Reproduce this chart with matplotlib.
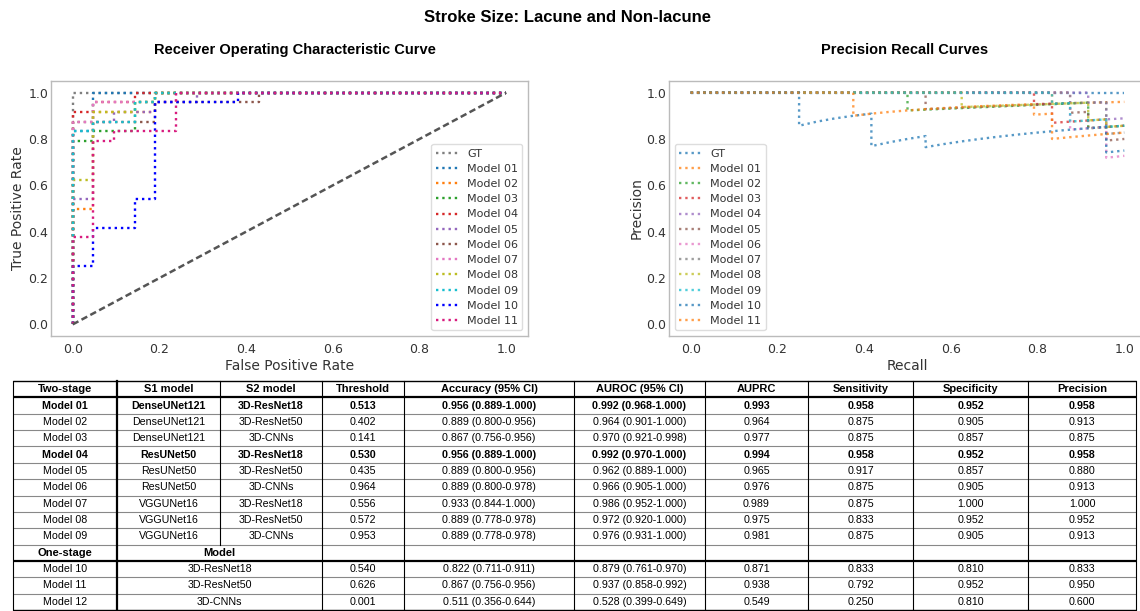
import matplotlib
matplotlib.use('Agg')
import matplotlib.pyplot as plt

W, H = 1140, 611

# ---------------- data ----------------
curve_labels = ['GT'] + ['Model %02d' % i for i in range(1, 12)]

roc_colors = ['tab:gray', 'tab:blue', 'tab:orange', 'tab:green', 'tab:red', 'tab:purple',
              'tab:brown', 'tab:pink', 'tab:olive', 'tab:cyan', 'blue', '#d81b7e']

roc_fpr = [
    [0, 0, 1],
    [0, 0, 0.0476, 0.0476, 1],
    [0, 0, 0.0476, 0.0476, 0.1905, 0.1905, 1],
    [0, 0, 0.0476, 0.0476, 0.1429, 0.1429, 0.1905, 0.1905, 1],
    [0, 0, 0.0476, 0.0476, 0.1429, 0.1429, 1],
    [0, 0, 0.0476, 0.0476, 0.0952, 0.0952, 0.1905, 0.1905, 0.2857, 0.2857, 1],
    [0, 0, 0.1905, 0.1905, 0.4286, 0.4286, 1],
    [0, 0, 0.0476, 0.0476, 0.2381, 0.2381, 1],
    [0, 0, 0.0476, 0.0476, 0.1429, 0.1429, 0.1905, 0.1905, 1],
    [0, 0, 0.0476, 0.0476, 0.1429, 0.1429, 0.1905, 0.1905, 1],
    [0, 0, 0.0476, 0.0476, 0.1429, 0.1429, 0.1905, 0.1905, 0.381, 0.381, 1],
    [0, 0, 0.0476, 0.0476, 0.0952, 0.0952, 0.2381, 0.2381, 1],
]
roc_tpr = [
    [0, 1, 1],
    [0, 0.8333, 0.8333, 1, 1],
    [0, 0.5, 0.5, 0.9167, 0.9167, 1, 1],
    [0, 0.7917, 0.7917, 0.8333, 0.8333, 0.9583, 0.9583, 1, 1],
    [0, 0.9167, 0.9167, 0.9583, 0.9583, 1, 1],
    [0, 0.5417, 0.5417, 0.875, 0.875, 0.9167, 0.9167, 0.9583, 0.9583, 1, 1],
    [0, 0.875, 0.875, 0.9583, 0.9583, 1, 1],
    [0, 0.875, 0.875, 0.9583, 0.9583, 1, 1],
    [0, 0.625, 0.625, 0.9167, 0.9167, 0.9583, 0.9583, 1, 1],
    [0, 0.8333, 0.8333, 0.875, 0.875, 0.9583, 0.9583, 1, 1],
    [0, 0.25, 0.25, 0.4167, 0.4167, 0.5417, 0.5417, 0.9583, 0.9583, 1, 1],
    [0, 0.375, 0.375, 0.7917, 0.7917, 0.8333, 0.8333, 1, 1],
]

pr_colors = ['tab:blue', 'tab:orange', 'tab:green', 'tab:red', 'tab:purple', 'tab:brown',
             'tab:pink', 'tab:gray', 'tab:olive', 'tab:cyan', 'tab:blue', 'tab:orange']

pr_recall = [
    [0, 1.0],
    [0, 0.8333, 0.8333, 1.0],
    [0, 0.5, 0.5, 0.9167, 0.9167, 1.0],
    [0, 0.7917, 0.7917, 0.8333, 0.8333, 0.9583, 0.9583, 1.0],
    [0, 0.9167, 0.9167, 0.9583, 0.9583, 1.0],
    [0, 0.5417, 0.5417, 0.875, 0.875, 0.9167, 0.9167, 0.9583, 0.9583, 1.0],
    [0, 0.875, 0.875, 0.9583, 0.9583, 1.0],
    [0, 0.875, 0.875, 0.9583, 0.9583, 1.0],
    [0, 0.625, 0.625, 0.9167, 0.9167, 0.9583, 0.9583, 1.0],
    [0, 0.8333, 0.8333, 0.875, 0.875, 0.9583, 0.9583, 1.0],
    [0, 0.25, 0.25, 0.2917, 0.3333, 0.375, 0.4167, 0.4167, 0.4583, 0.5, 0.5417, 0.5417,
     0.5833, 0.625, 0.6667, 0.7083, 0.75, 0.7917, 0.8333, 0.875, 0.9167, 0.9583, 0.9583, 1.0],
    [0, 0.375, 0.375, 0.4167, 0.4583, 0.5, 0.5417, 0.5833, 0.625, 0.6667, 0.7083, 0.75,
     0.7917, 0.7917, 0.8333, 0.8333, 0.875, 0.9167, 0.9583, 1.0],
]
pr_precision = [
    [1, 1],
    [1, 1, 0.9524, 0.96],
    [1, 1, 0.9231, 0.9565, 0.8462, 0.8571],
    [1, 1, 0.95, 0.9524, 0.8696, 0.8846, 0.8519, 0.8571],
    [1, 1, 0.9565, 0.9583, 0.8846, 0.8889],
    [1, 1, 0.9286, 0.9545, 0.913, 0.9167, 0.8462, 0.8519, 0.7931, 0.8],
    [1, 1, 0.84, 0.8519, 0.7188, 0.7273],
    [1, 1, 0.9545, 0.9583, 0.8214, 0.8276],
    [1, 1, 0.9375, 0.9565, 0.88, 0.8846, 0.8519, 0.8571],
    [1, 1, 0.9524, 0.9545, 0.875, 0.8846, 0.8519, 0.8571],
    [1, 1, 0.8571, 0.875, 0.8889, 0.9, 0.9091, 0.7692, 0.7857, 0.8, 0.8125, 0.7647,
     0.7778, 0.7895, 0.8, 0.8095, 0.8182, 0.8261, 0.8333, 0.84, 0.8462, 0.8519, 0.7419, 0.75],
    [1, 1, 0.9, 0.9091, 0.9167, 0.9231, 0.9286, 0.9333, 0.9375, 0.9412, 0.9444, 0.9474,
     0.95, 0.9048, 0.9091, 0.8, 0.8077, 0.8148, 0.8214, 0.8276],
]

table_header = ['Two-stage', 'S1 model', 'S2 model', 'Threshold', 'Accuracy (95% CI)',
                'AUROC (95% CI)', 'AUPRC', 'Sensitivity', 'Specificity', 'Precision']
two_stage_rows = [
    ['Model 01', 'DenseUNet121', '3D-ResNet18', '0.513', '0.956 (0.889-1.000)', '0.992 (0.968-1.000)', '0.993', '0.958', '0.952', '0.958'],
    ['Model 02', 'DenseUNet121', '3D-ResNet50', '0.402', '0.889 (0.800-0.956)', '0.964 (0.901-1.000)', '0.964', '0.875', '0.905', '0.913'],
    ['Model 03', 'DenseUNet121', '3D-CNNs', '0.141', '0.867 (0.756-0.956)', '0.970 (0.921-0.998)', '0.977', '0.875', '0.857', '0.875'],
    ['Model 04', 'ResUNet50', '3D-ResNet18', '0.530', '0.956 (0.889-1.000)', '0.992 (0.970-1.000)', '0.994', '0.958', '0.952', '0.958'],
    ['Model 05', 'ResUNet50', '3D-ResNet50', '0.435', '0.889 (0.800-0.956)', '0.962 (0.889-1.000)', '0.965', '0.917', '0.857', '0.880'],
    ['Model 06', 'ResUNet50', '3D-CNNs', '0.964', '0.889 (0.800-0.978)', '0.966 (0.905-1.000)', '0.976', '0.875', '0.905', '0.913'],
    ['Model 07', 'VGGUNet16', '3D-ResNet18', '0.556', '0.933 (0.844-1.000)', '0.986 (0.952-1.000)', '0.989', '0.875', '1.000', '1.000'],
    ['Model 08', 'VGGUNet16', '3D-ResNet50', '0.572', '0.889 (0.778-0.978)', '0.972 (0.920-1.000)', '0.975', '0.833', '0.952', '0.952'],
    ['Model 09', 'VGGUNet16', '3D-CNNs', '0.953', '0.889 (0.778-0.978)', '0.976 (0.931-1.000)', '0.981', '0.875', '0.905', '0.913'],
]
bold_rows = ['Model 01', 'Model 04']
one_stage_header = ['One-stage', 'Model']
one_stage_rows = [
    ['Model 10', '3D-ResNet18', '0.540', '0.822 (0.711-0.911)', '0.879 (0.761-0.970)', '0.871', '0.833', '0.810', '0.833'],
    ['Model 11', '3D-ResNet50', '0.626', '0.867 (0.756-0.956)', '0.937 (0.858-0.992)', '0.938', '0.792', '0.952', '0.950'],
    ['Model 12', '3D-CNNs', '0.001', '0.511 (0.356-0.644)', '0.528 (0.399-0.649)', '0.549', '0.250', '0.810', '0.600'],
]

# ---------------- figure ----------------
fig = plt.figure(figsize=(W / 100, H / 100), dpi=100)
SANS = ['Liberation Sans', 'DejaVu Sans']

fig.text(567 / W, 1 - 18 / H, 'Stroke Size: Lacune and Non-lacune', ha='center', va='center',
         fontsize=12, fontweight='bold', family=SANS)
fig.text(295 / W, 1 - 50 / H, 'Receiver Operating Characteristic Curve', ha='center', va='center',
         fontsize=10.5, fontweight='bold', family=SANS)
fig.text(905 / W, 1 - 50 / H, 'Precision Recall Curves', ha='center', va='center',
         fontsize=10.5, fontweight='bold', family=SANS)

ax_bottom = 1 - 336 / H
ax_height = 255 / H
ax_roc = fig.add_axes([51 / W, ax_bottom, 477 / W, ax_height])
ax_pr = fig.add_axes([669 / W, ax_bottom, 477 / W, ax_height])

LW = 1.7
for fpr, tpr, c, lab in zip(roc_fpr, roc_tpr, roc_colors, curve_labels):
    ax_roc.plot(fpr, tpr, linestyle=':', color=c, lw=LW, label=lab)
ax_roc.plot([0, 1], [0, 1], color='#555555', lw=1.8, linestyle=(0, (2.6, 1.4)))

for rec, prec, c, lab in zip(pr_recall, pr_precision, pr_colors, curve_labels):
    ax_pr.plot(rec, prec, linestyle=':', color=c, lw=LW, alpha=0.75, label=lab)

for ax, xl, yl, loc in [(ax_roc, 'False Positive Rate', 'True Positive Rate', 'lower right'),
                        (ax_pr, 'Recall', 'Precision', 'lower left')]:
    ax.set_xlim(-0.05, 1.05)
    ax.set_ylim(-0.05, 1.05)
    ax.set_xticks([0, 0.2, 0.4, 0.6, 0.8, 1.0])
    ax.set_yticks([0, 0.2, 0.4, 0.6, 0.8, 1.0])
    ax.set_xlabel(xl, fontsize=10, color='#333333', labelpad=2)
    ax.set_ylabel(yl, fontsize=10, color='#333333', labelpad=2)
    ax.tick_params(axis='both', labelsize=9, labelcolor='#333333', length=0)
    ax.tick_params(axis='x', pad=5)
    ax.tick_params(axis='y', pad=2)
    for s in ax.spines.values():
        s.set_color('#bbbbbb')
        s.set_linewidth(1.0)
    leg = ax.legend(loc=loc, fontsize=8, labelspacing=0.47, handlelength=2.0,
                    borderpad=0.4, framealpha=1, fancybox=True)
    leg.get_frame().set_edgecolor('#dddddd')
    for t in leg.get_texts():
        t.set_color('#333333')

# ---------------- table ----------------
tax = fig.add_axes([0, 0, 1, 1])
tax.set_xlim(0, W)
tax.set_ylim(H, 0)
tax.axis('off')

xb = [13, 117, 220, 322, 404, 574, 705, 808, 913, 1028, 1136]
top = 381.0
nrows = 1 + len(two_stage_rows) + 1 + len(one_stage_rows)
rh = (610.0 - top) / nrows
ybs = [top + i * rh for i in range(nrows + 1)]
TFS = 7.7


def cell_text(ci, ri, s, bold=False, x=None, fs=TFS):
    cx = (xb[ci] + xb[ci + 1]) / 2 if x is None else x
    cy = (ybs[ri] + ybs[ri + 1]) / 2
    tax.text(cx, cy, s, ha='center', va='center', fontsize=fs, family=SANS,
             fontweight='bold' if bold else 'normal', color='black')


# header
for ci, s in enumerate(table_header):
    cell_text(ci, 0, s, bold=True, fs=8)
# two-stage rows
for ri, row in enumerate(two_stage_rows, start=1):
    b = row[0] in bold_rows
    for ci, s in enumerate(row):
        cell_text(ci, ri, s, bold=b)
# one-stage header
r_os = 1 + len(two_stage_rows)
cell_text(0, r_os, one_stage_header[0], bold=True, fs=8)
cell_text(1, r_os, one_stage_header[1], bold=True, x=(xb[1] + xb[3]) / 2, fs=8)
# one-stage rows
for k, row in enumerate(one_stage_rows):
    ri = r_os + 1 + k
    cell_text(0, ri, row[0])
    cell_text(1, ri, row[1], x=(xb[1] + xb[3]) / 2)
    for j, s in enumerate(row[2:]):
        cell_text(3 + j, ri, s)

# horizontal lines
for i, y in enumerate(ybs):
    if i in (0, nrows):
        lw, c = 1.0, 'black'
    elif i in (1, r_os + 1):
        lw, c = 1.6, 'black'
    else:
        lw, c = 0.8, '#888888'
    tax.plot([xb[0], xb[-1]], [y, y], color=c, lw=lw, solid_capstyle='butt')
# vertical lines
for j, x in enumerate(xb):
    lw = 1.6 if j == 1 else 0.8
    if j == 2:
        tax.plot([x, x], [ybs[0], ybs[r_os]], color='black', lw=lw)
    else:
        tax.plot([x, x], [ybs[0], ybs[-1]], color='black', lw=lw)

fig.savefig('out.png', dpi=100)
